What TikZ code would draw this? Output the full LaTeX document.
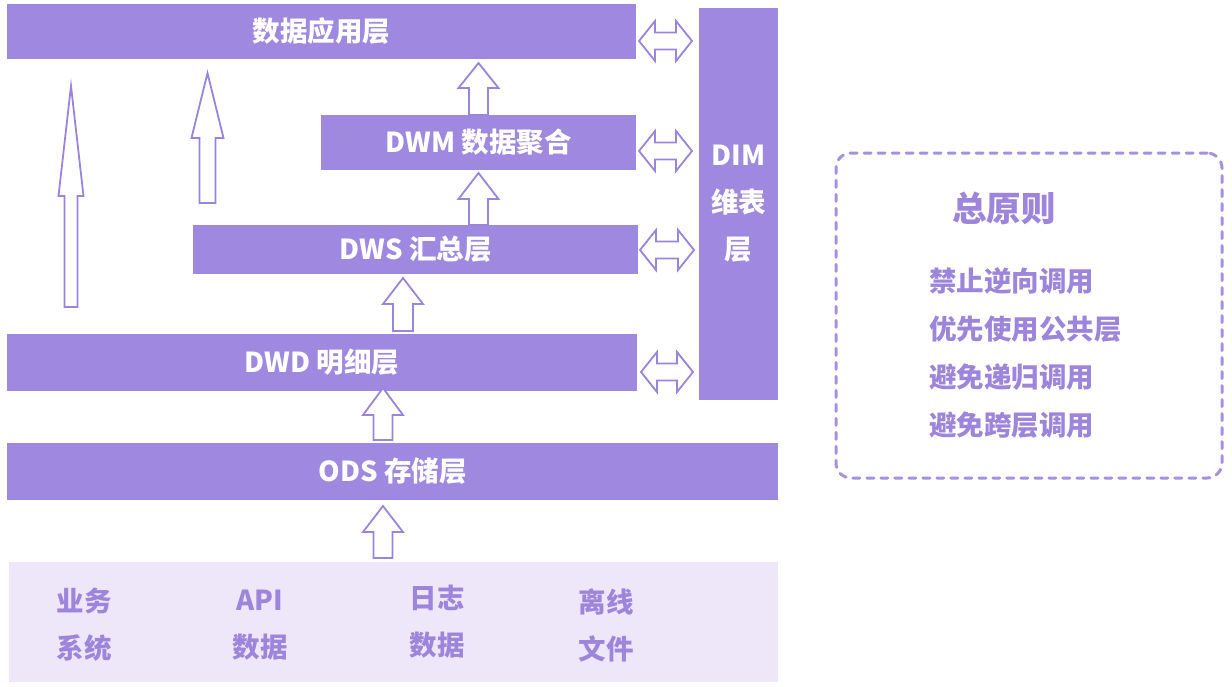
\documentclass[tikz,border=0pt]{standalone}
\usepackage{fontspec}
\setmainfont{Noto Sans CJK SC}
\definecolor{layerfill}{HTML}{9F88DF}
\definecolor{srcfill}{HTML}{EDE7F9}
\definecolor{arrowline}{HTML}{9B84DB}
\definecolor{txtpurple}{HTML}{9D85DC}
\definecolor{dashcol}{HTML}{A690E0}
\newcommand{\UpArrow}[6]{%
  \draw[blk] ({#1-#6},#4) -- ({#1-#6},#3) -- ({#1-#5},#3) -- (#1,#2) -- ({#1+#5},#3) -- ({#1+#6},#3) -- ({#1+#6},#4) -- cycle;}
\newcommand{\DArrow}[3]{%
  \draw[blk] (#1,#3) -- ({#1+16},{#3-20}) -- ({#1+16},{#3-8.5}) -- ({#2-16},{#3-8.5}) -- ({#2-16},{#3-20}) -- (#2,#3) -- ({#2-16},{#3+20}) -- ({#2-16},{#3+8.5}) -- ({#1+16},{#3+8.5}) -- ({#1+16},{#3+20}) -- cycle;}
\tikzset{
  layer/.style={fill=layerfill, draw=none, inner sep=0pt, text=white,
    font=\bfseries\fontsize{27.5}{32}\selectfont},
  srctext/.style={text=txtpurple, align=center, inner sep=0pt,
    font=\bfseries\fontsize{27.5}{47}\selectfont},
  blk/.style={draw=arrowline, line width=1.8pt, fill=white, line join=miter},
  rulebox/.style={draw=dashcol, line width=3pt, dash pattern=on 7pt off 7pt,
    rounded corners=15pt, line cap=round, inner sep=0pt},
  ruletext/.style={text=txtpurple, inner sep=0pt, anchor=west,
    font=\bfseries\fontsize{27.5}{32}\selectfont},
}
\begin{document}
\begin{tikzpicture}[x=1pt,y=-1pt]
\useasboundingbox (0,0) rectangle (1232,686);
% layers
\node[layer, minimum width=629pt, minimum height=55pt] (app) at (321.5,31.5) {数据应用层};
\node[layer, minimum width=315pt, minimum height=55pt] (dwm) at (478.5,142.5) {DWM 数据聚合};
\node[layer, minimum width=445pt, minimum height=49pt] (dws) at (415.5,249.5) {DWS 汇总层};
\node[layer, minimum width=630pt, minimum height=57pt] (dwd) at (322,362.5) {DWD 明细层};
\node[layer, minimum width=771pt, minimum height=57pt] (ods) at (392.5,471.5) {ODS 存储层};
\node[layer, minimum width=79pt, minimum height=392pt, align=center,
  font=\bfseries\fontsize{27.5}{47}\selectfont] (dim) at (738.5,204) {DIM\\维表\\层};
% sources
\node[fill=srcfill, draw=none, minimum width=769pt, minimum height=120pt, inner sep=0pt] (src) at (393.5,622) {};
\node[srctext] (s1) at (84,625) {业务\\系统};
\node[srctext] (s2) at (260,625) {API\\数据};
\node[srctext] (s3) at (437,622) {日志\\数据};
\node[srctext] (s4) at (606,625) {离线\\文件};
% up arrows
\UpArrow{71}{86}{196}{307}{12.5}{6.5}
\UpArrow{207.5}{73}{138}{203}{16}{8}
\UpArrow{478.5}{63}{88}{115}{20}{9.5}
\UpArrow{478.5}{173}{199}{225}{20}{9.5}
\UpArrow{403}{278}{304}{331}{20}{10}
\UpArrow{383}{388}{415}{440}{20}{9.5}
\UpArrow{383}{506}{532}{558}{20}{9.5}
% double arrows to DIM
\DArrow{639}{692}{41}
\DArrow{639}{692}{151}
\DArrow{640}{694}{250}
\DArrow{641}{693}{372}
% rules box
\node[rulebox, minimum width=386pt, minimum height=325pt] (rules) at (1029,315.5) {};
\node[text=txtpurple, inner sep=0pt, font=\bfseries\fontsize{34.5}{40}\selectfont] (title) at (1004,208) {总原则};
\node[ruletext] (r1) at (929,281) {禁止逆向调用};
\node[ruletext] (r2) at (929,329) {优先使用公共层};
\node[ruletext] (r3) at (929,377) {避免递归调用};
\node[ruletext] (r4) at (929,425) {避免跨层调用};
\end{tikzpicture}
\end{document}
